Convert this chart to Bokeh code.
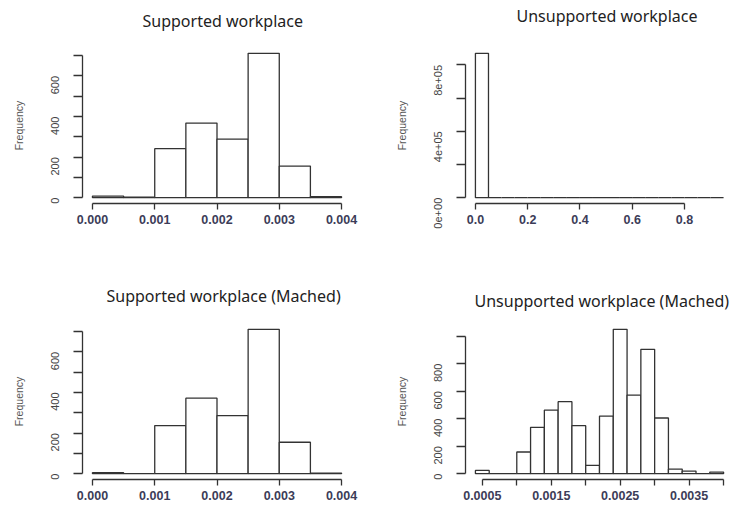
import math
from bokeh.plotting import figure
from bokeh.models import Range1d, FixedTicker, Title
from bokeh.layouts import gridplot
from bokeh.embed import file_html
from bokeh.resources import INLINE

# ---------------- data ----------------
sup_breaks = [0.0, 0.0005, 0.0010, 0.0015, 0.0020, 0.0025, 0.0030, 0.0035, 0.0040]
sup_counts = [8, 3, 242, 368, 289, 712, 156, 5]

unsup_breaks = [0.00, 0.05, 0.10, 0.15, 0.20, 0.25, 0.30, 0.35, 0.40, 0.45,
                0.50, 0.55, 0.60, 0.65, 0.70, 0.75, 0.80, 0.85, 0.90, 0.95]
unsup_counts = [870000, 0, 0, 0, 0, 0, 0, 0, 0, 0, 0, 0, 0, 0, 0, 0, 0, 0, 0]

supm_breaks = [0.0, 0.0005, 0.0010, 0.0015, 0.0020, 0.0025, 0.0030, 0.0035, 0.0040]
supm_counts = [5, 0, 237, 372, 286, 711, 155, 3]

unsupm_breaks = [0.0004, 0.0006, 0.0008, 0.0010, 0.0012, 0.0014, 0.0016, 0.0018, 0.0020, 0.0022,
                 0.0024, 0.0026, 0.0028, 0.0030, 0.0032, 0.0034, 0.0036, 0.0038, 0.0040]
unsupm_counts = [24, 0, 0, 158, 337, 463, 524, 349, 61, 419, 1050, 572, 904, 405, 34, 19, 0, 12]

titles = ["Supported workplace", "Unsupported workplace",
          "Supported workplace (Mached)", "Unsupported workplace (Mached)"]

sup_xticks = [0.0, 0.001, 0.002, 0.003, 0.004]
sup_xlabels = ["0.000", "0.001", "0.002", "0.003", "0.004"]
sup_yticks = [0, 100, 200, 300, 400, 500, 600, 700]
sup_ylabels = ["0", "", "200", "", "400", "", "600", ""]

unsup_xticks = [0.0, 0.2, 0.4, 0.6, 0.8]
unsup_xlabels = ["0.0", "0.2", "0.4", "0.6", "0.8"]
unsup_yticks = [0, 200000, 400000, 600000, 800000]
unsup_ylabels = ["0e+00", "", "4e+05", "", "8e+05"]

unsupm_xticks = [0.0005, 0.0010, 0.0015, 0.0020, 0.0025, 0.0030, 0.0035, 0.0040]
unsupm_xlabels = ["0.0005", "", "0.0015", "", "0.0025", "", "0.0035", ""]
unsupm_yticks = [0, 200, 400, 600, 800, 1000]
unsupm_ylabels = ["0", "200", "400", "600", "800", ""]

LINE = "#333333"


def hist_panel(breaks, counts, title, xticks, xlabels, yticks, ylabels,
               width, height, mb, title_dx, title_gap):
    x0, x1 = breaks[0], breaks[-1]
    span = x1 - x0
    ymax = max(counts)
    p = figure(width=width, height=height, output_backend="svg", toolbar_location=None,
               x_range=Range1d(x0 - 0.04 * span, x1 + 0.04 * span),
               y_range=Range1d(-0.04 * ymax, 1.04 * ymax),
               min_border=0, min_border_left=mb[0], min_border_right=mb[1],
               min_border_top=mb[2], min_border_bottom=mb[3])
    p.outline_line_color = None
    p.xgrid.visible = False
    p.ygrid.visible = False
    p.background_fill_color = "white"
    p.border_fill_color = "white"

    p.quad(left=breaks[:-1], right=breaks[1:], bottom=0, top=counts,
           fill_color="white", line_color=LINE, line_width=1.3)

    xa = p.xaxis[0]
    xa.ticker = FixedTicker(ticks=xticks)
    xa.major_label_overrides = {t: l for t, l in zip(xticks, xlabels)}
    xa.bounds = (xticks[0], xticks[-1])
    xa.minor_tick_line_color = None
    xa.major_tick_in = 0
    xa.major_tick_out = 6
    xa.major_label_standoff = 5
    xa.axis_line_color = LINE
    xa.axis_line_width = 1.3
    xa.major_tick_line_color = LINE
    xa.major_tick_line_width = 1.3
    xa.major_label_text_font = "Liberation Sans"
    xa.major_label_text_font_style = "bold"
    xa.major_label_text_font_size = "12.5px"
    xa.major_label_text_color = "#3c3c58"

    ya = p.yaxis[0]
    ya.ticker = FixedTicker(ticks=yticks)
    ya.major_label_overrides = {t: l for t, l in zip(yticks, ylabels)}
    ya.bounds = (yticks[0], yticks[-1])
    ya.minor_tick_line_color = None
    ya.major_tick_in = 0
    ya.major_tick_out = 9
    ya.major_label_standoff = 18
    ya.major_label_orientation = math.pi / 2
    ya.axis_line_color = LINE
    ya.axis_line_width = 1.3
    ya.major_tick_line_color = LINE
    ya.major_tick_line_width = 1.3
    ya.major_label_text_font = "Liberation Sans"
    ya.major_label_text_font_size = "11px"
    ya.major_label_text_color = "#444444"
    ya.axis_label = "Frequency"
    ya.axis_label_standoff = 20
    ya.axis_label_text_font = "Liberation Sans"
    ya.axis_label_text_font_style = "normal"
    ya.axis_label_text_font_size = "10.5px"
    ya.axis_label_text_color = "#555555"

    # invisible spacer between frame and title
    p.add_layout(Title(text=" ", text_font_size="1px", standoff=title_gap), "above")
    p.add_layout(Title(text=title, align="left", offset=title_dx,
                       vertical_align="bottom", standoff=0,
                       text_font="Noto Sans", text_font_size="16px",
                       text_font_style="normal", text_color="#222222"), "above")
    return p


# margins: (left, right, top, bottom)
p1 = hist_panel(sup_breaks, sup_counts, titles[0], sup_xticks, sup_xlabels,
                sup_yticks, sup_ylabels, 370, 277, (82, 19, 47, 74), 60, 13)
p2 = hist_panel(unsup_breaks, unsup_counts, titles[1], unsup_xticks, unsup_xlabels,
                unsup_yticks, unsup_ylabels, 365, 277, (95, 2, 47, 74), 51, 18)
p3 = hist_panel(supm_breaks, supm_counts, titles[2], sup_xticks, sup_xlabels,
                sup_yticks, sup_ylabels, 370, 231, (82, 19, 46, 29), 24, 14)
p4 = hist_panel(unsupm_breaks, unsupm_counts, titles[3], unsupm_xticks, unsupm_xlabels,
                unsupm_yticks, unsupm_ylabels, 365, 231, (95, 2, 46, 29), 9, 9)

grid = gridplot([[p1, p2], [p3, p4]], toolbar_location=None)

open("out.html", "w").write(file_html(grid, INLINE))
